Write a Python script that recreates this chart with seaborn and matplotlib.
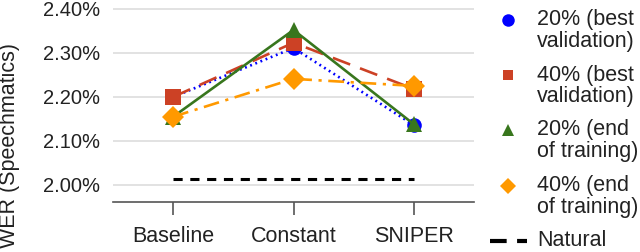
import numpy as np
import pandas as pd
import seaborn as sns
import matplotlib
matplotlib.use("Agg")
import matplotlib.pyplot as plt
from matplotlib.lines import Line2D
from matplotlib.ticker import FuncFormatter

categories = ["Baseline", "Constant", "SNIPER"]
best20 = [2.200, 2.311, 2.136]
best40 = [2.200, 2.323, 2.218]
end20 = [2.155, 2.352, 2.138]
end40 = [2.155, 2.241, 2.225]
natural = [2.013, 2.013]

labels = ["20% (best\nvalidation)", "40% (best\nvalidation)",
          "20% (end\nof training)", "40% (end\nof training)"]
colors = ["#0000ff", "#cc4125", "#38761d", "#ff9900"]
markers = ["o", "s", "^", "D"]
msizes = [10.5, 11, 11, 11.5]
lsty = [(0, (0.7, 1.4)), (0, (7, 4)), "-", (0, (6, 2.5, 1.2, 2.5))]

sns.set_style("white")
plt.rcParams["font.family"] = ["Liberation Sans", "DejaVu Sans"]

fig = plt.figure(figsize=(6.4, 2.52), dpi=100)
ax = fig.add_axes([113 / 640, 1 - 202 / 252, 361 / 640, 202 / 252])

series = [best20, best40, end20, end40]
for vals, c, m, ms, ls in zip(series, colors, markers, msizes, lsty):
    df = pd.DataFrame({"cat": categories, "wer": vals})
    sns.lineplot(data=df, x="cat", y="wer", ax=ax, color=c, marker=m,
                 markersize=ms, markeredgewidth=0, linewidth=1.9,
                 linestyle=ls, sort=False)

nat = pd.DataFrame({"cat": [categories[0], categories[-1]], "wer": natural})
sns.lineplot(data=nat, x="cat", y="wer", ax=ax, color="black",
             linewidth=2.2, linestyle=(0, (3, 2.5)), sort=False)

ax.set_xlim(-0.5, 2.5)
ax.set_ylim(1.9614, 2.42)
ax.set_yticks([2.0, 2.1, 2.2, 2.3, 2.4])
ax.yaxis.set_major_formatter(FuncFormatter(lambda v, p: f"{v:.2f}%"))
ax.grid(axis="y", color="#dddddd", linewidth=1.2)
ax.set_axisbelow(True)
for s in ["left", "right", "top"]:
    ax.spines[s].set_visible(False)
ax.spines["bottom"].set_color("#555555")
ax.spines["bottom"].set_linewidth(1.2)
ax.tick_params(axis="y", length=0, pad=9, labelsize=14.5, labelcolor="#222222")
ax.tick_params(axis="x", length=9, width=1.2, color="#555555", pad=8,
               labelsize=15.5, labelcolor="#222222", bottom=True)
ax.set_xlabel("")
ax.set_ylabel("")
fig.text(10 / 640, 1 - 145 / 252, "WER (Speechmatics)", rotation=90,
         ha="center", va="center", fontsize=15.5, color="#222222")

# legend, drawn by hand so markers line up with the first line of text
ys = [20, 75, 130, 186]
lsz = [9, 7, 8, 8]
for lab, c, m, y, s in zip(labels, colors, markers, ys, lsz):
    fig.add_artist(Line2D([508 / 640], [1 - y / 252], marker=m, color=c,
                          markersize=s, markeredgewidth=0, linestyle="none"))
    l1, l2 = lab.split("\n")
    fig.text(537 / 640, 1 - y / 252, l1, ha="left", va="center",
             fontsize=15.5, color="#222222")
    fig.text(537 / 640, 1 - (y + 21.5) / 252, l2, ha="left", va="center",
             fontsize=15.5, color="#222222")
fig.add_artist(Line2D([490 / 640, 527 / 640], [1 - 241 / 252] * 2,
                      color="black", linewidth=3, linestyle=(0, (4, 2.5))))
fig.text(537 / 640, 1 - 241 / 252, "Natural", ha="left", va="center",
         fontsize=15.5, color="#222222")

fig.savefig("out.png", dpi=100)
